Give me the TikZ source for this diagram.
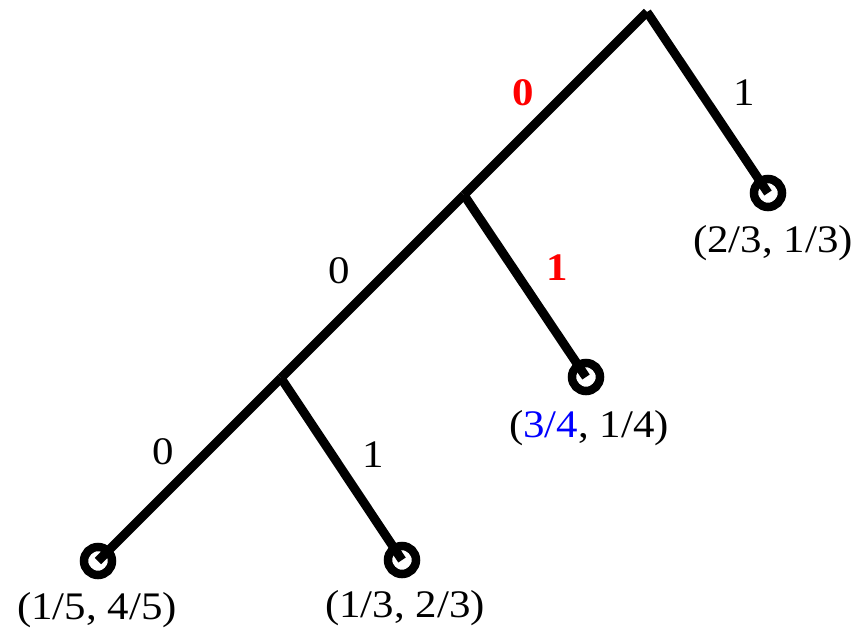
\documentclass[tikz,border=0pt]{standalone}
\usepackage{fontspec}
\setmainfont{Liberation Serif}
\begin{document}
\begin{tikzpicture}[x=1pt,y=-1pt,
  edge/.style={line width=9pt},
  leaf/.style={draw,circle,line width=8.5pt,minimum size=28pt,inner sep=0pt},
  lbl/.style={anchor=base,inner sep=0pt,xscale=1.1,font=\fontsize{39}{47}\selectfont},
  hot/.style={lbl,text=red,font=\fontsize{39}{47}\selectfont\bfseries}]
\useasboundingbox (0,0) rectangle (868,630);
\coordinate (r) at (647,12);
\coordinate (n1) at (464,195);
\coordinate (n2) at (281,378);
\node[leaf] (a) at (768,193) {};
\node[leaf] (b) at (586,377) {};
\node[leaf] (c) at (402,560) {};
\node[leaf] (d) at (98,561) {};
\draw[edge] (r) -- (n1);
\draw[edge] (n1) -- (n2);
\draw[edge] (n2) -- (d.center);
\draw[edge] (r) -- (a.center);
\draw[edge] (n1) -- (b.center);
\draw[edge] (n2) -- (c.center);
\node[hot] (l1) at (523,105) {0};
\node[lbl] (l2) at (744,105) {1};
\node[lbl] (l3) at (339,283) {0};
\node[hot] (l4) at (557,280) {1};
\node[lbl] (l5) at (163,464) {0};
\node[lbl] (l6) at (373,467) {1};
\node[lbl] (ta) at (773,252) {(2/3, 1/3)};
\node[lbl] (tb) at (589,437) {(\textcolor{blue}{3/4}, 1/4)};
\node[lbl] (tc) at (405,617) {(1/3, 2/3)};
\node[lbl] (td) at (97,619) {(1/5, 4/5)};
\end{tikzpicture}
\end{document}
